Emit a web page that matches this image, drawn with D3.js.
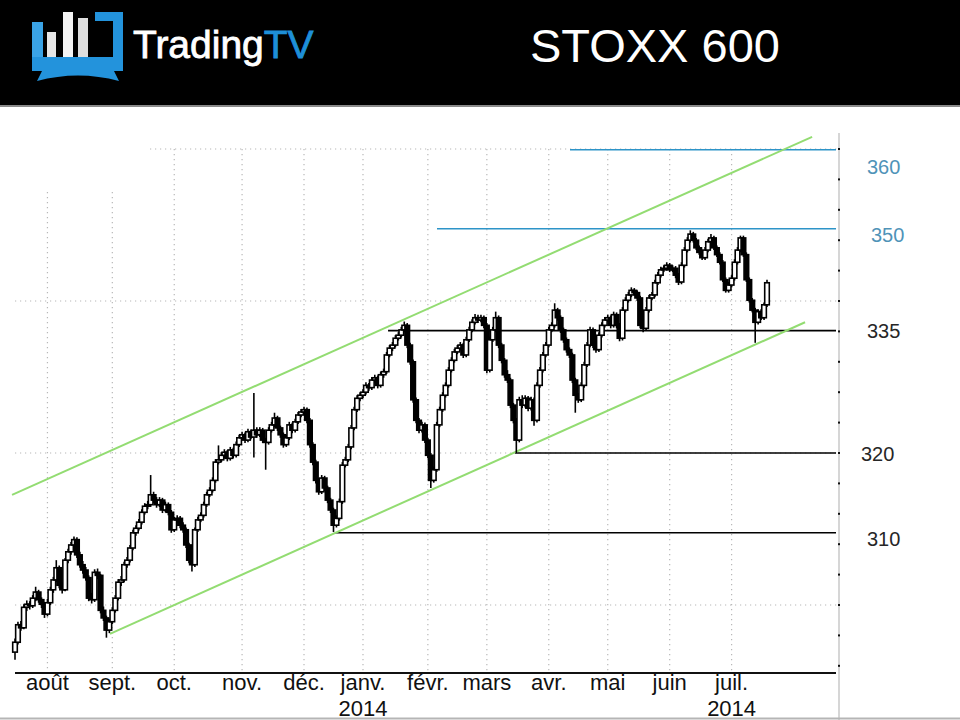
<!DOCTYPE html>
<html>
<head>
<meta charset="utf-8">
<script src="https://cdn.jsdelivr.net/npm/d3@7"></script>
<style>
  body { margin: 0; background: #fff; }
  svg { display: block; }
</style>
</head>
<body>
<div id="chart"></div>
<script>
// Daily candles, 17 Jul 2013 .. 17 Jul 2014: [open, high, low, close]
const candles = [
  [293.8,295.6,292.8,295.1],[295.1,297.8,294.8,297.4],[297.4,297.9,296.6,297.0],[297.0,300.1,296.8,299.7],
  [299.7,300.6,299.2,300.1],[300.1,300.5,299.4,299.9],[299.9,301.3,299.6,300.9],[300.9,302.4,300.5,301.7],
  [301.7,302.0,300.3,300.7],[300.7,301.0,299.6,300.1],[300.1,300.4,298.3,298.8],[298.8,300.8,298.5,300.3],
  [300.3,302.4,300.0,302.0],[302.0,303.7,301.6,303.3],[303.3,305.9,303.0,304.9],[304.9,305.2,302.2,302.6],
  [302.6,303.0,301.5,302.0],[302.0,306.2,301.8,305.9],[305.9,307.4,305.5,307.0],[307.0,308.3,306.6,307.9],
  [307.9,309.0,307.5,308.6],[308.6,308.9,306.2,306.6],[306.6,307.0,304.9,305.3],[305.3,305.8,304.1,304.6],
  [304.6,305.0,303.2,303.6],[303.6,303.9,300.5,300.9],[300.9,301.6,300.2,300.7],[300.7,304.7,300.4,304.3],
  [304.3,304.8,303.4,303.9],[303.9,304.1,298.9,299.3],[299.3,299.8,297.9,298.3],[298.3,298.6,295.7,296.7],
  [296.7,298.2,296.3,297.8],[297.8,299.7,297.5,299.3],[299.3,301.3,299.0,300.9],[300.9,303.4,300.6,303.0],
  [303.0,303.8,302.5,303.3],[303.3,305.7,303.0,305.3],[305.3,306.3,304.9,305.9],[305.9,307.9,305.6,307.5],
  [307.5,309.9,307.2,309.5],[309.5,310.5,309.1,310.1],[310.1,311.3,309.8,310.9],[310.9,312.6,310.6,312.2],
  [312.2,313.4,311.9,313.0],[313.0,313.7,312.6,313.2],[313.2,317.1,312.9,314.5],[314.5,314.9,313.4,313.8],
  [313.8,314.2,312.8,313.2],[313.2,314.2,312.9,313.8],[313.8,314.1,312.1,312.5],[312.5,313.6,312.2,313.2],
  [313.2,313.5,311.8,312.2],[312.2,312.5,309.5,309.9],[309.9,311.6,309.6,311.2],[311.2,311.8,310.8,311.4],
  [311.4,311.7,310.1,310.5],[310.5,310.9,309.5,309.9],[309.9,310.2,307.5,307.9],[307.9,308.2,305.5,305.9],
  [305.9,306.3,304.4,305.3],[305.3,310.2,305.0,309.9],[309.9,311.6,309.6,311.2],[311.2,312.2,310.9,311.8],
  [311.8,313.6,311.5,313.2],[313.2,314.9,312.9,314.5],[314.5,315.5,314.2,315.1],[315.1,316.8,314.8,316.4],
  [316.4,319.2,316.1,318.8],[318.8,321.0,318.5,319.1],[319.1,320.1,318.8,319.7],[319.7,320.5,319.3,320.1],
  [320.1,320.4,318.9,319.3],[319.3,320.8,319.0,320.4],[320.4,320.7,319.3,319.7],[319.7,321.5,319.4,321.1],
  [321.1,322.4,320.8,322.0],[322.0,322.8,321.7,322.4],[322.4,322.7,321.3,321.7],[321.7,323.2,321.4,322.8],
  [322.8,323.1,321.8,322.1],[322.1,327.9,319.4,323.0],[323.0,323.4,322.0,322.4],[322.4,323.4,322.1,323.0],
  [323.0,323.3,321.3,321.7],[321.7,322.0,317.8,321.4],[321.4,323.4,321.1,323.0],[323.0,324.1,322.7,323.7],
  [323.7,325.3,323.4,324.6],[324.6,324.9,322.9,323.3],[323.3,323.6,322.0,322.4],[322.4,322.7,320.7,321.1],
  [321.1,322.4,320.8,322.0],[322.0,324.1,321.7,323.7],[323.7,324.0,322.6,323.0],[323.0,324.5,322.7,324.1],
  [324.1,325.4,323.8,325.0],[325.0,325.8,324.7,325.4],[325.4,326.1,325.0,325.7],[325.7,326.0,323.9,324.3],
  [324.3,324.6,320.7,321.1],[321.1,321.4,318.4,318.8],[318.8,319.1,316.0,316.4],[316.4,316.7,314.5,314.9],
  [314.9,317.1,314.6,316.7],[316.7,317.0,315.0,315.4],[315.4,315.7,313.4,313.8],[313.8,314.1,312.1,312.5],
  [312.5,312.8,309.6,310.5],[310.5,311.8,310.2,311.4],[311.4,314.0,311.1,313.6],[313.6,318.8,313.3,318.4],
  [318.4,319.5,318.1,319.1],[319.1,321.2,318.8,320.8],[320.8,323.7,320.5,323.3],[323.3,326.1,323.0,325.7],
  [325.7,327.6,325.4,327.2],[327.2,328.0,326.8,327.6],[327.6,328.4,327.2,328.0],[328.0,329.3,327.7,328.9],
  [328.9,329.2,328.2,328.6],[328.6,330.0,328.3,329.6],[329.6,330.3,329.2,329.9],[329.9,330.2,328.5,328.9],
  [328.9,330.7,328.6,330.3],[330.3,331.1,329.9,330.7],[330.7,333.3,330.4,332.9],[332.9,334.2,332.6,333.8],
  [333.8,334.6,333.4,334.2],[334.2,335.5,333.9,335.1],[335.1,335.9,334.8,335.5],[335.5,336.6,335.2,336.2],
  [336.2,337.3,335.9,336.8],[336.8,337.1,333.8,334.2],[334.2,334.5,331.6,332.0],[332.0,332.3,326.6,327.0],
  [327.0,327.3,323.9,324.3],[324.3,324.6,322.6,323.0],[323.0,324.1,322.7,323.7],[323.7,324.0,321.3,321.7],
  [321.7,322.0,319.3,319.7],[319.7,320.0,315.4,316.4],[316.4,318.2,316.1,317.8],[317.8,324.1,317.5,323.7],
  [323.7,326.1,323.4,325.7],[325.7,328.0,325.4,327.6],[327.6,329.3,327.3,328.9],[328.9,331.3,328.6,330.9],
  [330.9,332.6,330.6,332.2],[332.2,333.7,331.9,333.3],[333.3,334.2,333.0,333.8],[333.8,334.6,333.5,334.2],
  [334.2,334.5,332.5,332.9],[332.9,335.3,332.6,334.9],[334.9,336.6,334.6,336.2],[336.2,337.6,335.9,337.2],
  [337.2,338.3,336.9,337.8],[337.8,338.2,337.1,337.5],[337.5,338.2,337.2,337.8],[337.8,338.1,336.4,336.8],
  [336.8,337.1,330.5,330.9],[330.9,335.3,330.6,334.9],[334.9,336.6,334.6,336.2],[336.2,338.6,335.9,337.8],
  [337.8,338.1,333.8,334.2],[334.2,334.5,331.8,332.2],[332.2,332.5,329.9,330.3],[330.3,330.9,329.2,329.6],
  [329.6,329.9,325.9,326.3],[326.3,326.6,323.9,324.3],[324.3,324.6,320.0,321.7],[321.7,327.4,321.4,327.0],
  [327.0,327.6,325.9,326.3],[326.3,327.6,326.0,327.2],[327.2,327.5,325.5,325.9],[325.9,327.4,325.6,327.0],
  [327.0,327.3,323.6,324.3],[324.3,329.3,324.0,328.9],[328.9,331.3,328.6,330.9],[330.9,333.3,330.6,332.9],
  [332.9,334.6,332.6,334.2],[334.2,336.6,333.9,336.2],[336.2,337.2,335.9,336.8],[336.8,339.7,336.5,338.8],
  [338.8,339.1,337.4,337.8],[337.8,338.1,335.8,336.2],[336.2,336.5,334.5,334.9],[334.9,335.2,333.2,333.6],
  [333.6,333.9,332.5,332.9],[332.9,333.2,329.2,329.6],[329.6,329.9,325.3,327.6],[327.6,327.9,326.6,327.0],
  [327.0,329.3,326.7,328.9],[328.9,332.0,328.6,331.6],[331.6,334.6,331.3,334.2],[334.2,336.6,333.9,336.2],
  [336.2,336.5,333.8,334.2],[334.2,334.5,333.2,333.6],[333.6,335.9,333.3,335.5],[335.5,337.2,335.2,336.8],
  [336.8,337.9,336.5,337.5],[337.5,338.2,337.2,337.8],[337.8,338.1,336.4,336.8],[336.8,338.6,336.5,338.2],
  [338.2,338.5,336.4,336.8],[336.8,337.1,334.7,335.1],[335.1,339.2,334.8,338.8],[338.8,340.5,338.5,340.1],
  [340.1,341.2,339.8,340.8],[340.8,341.8,340.5,341.4],[341.4,341.7,340.7,341.1],[341.1,341.4,340.0,340.4],
  [340.4,340.7,336.4,336.8],[336.8,337.1,335.9,336.4],[336.4,339.2,336.1,338.8],[338.8,340.8,338.5,340.4],
  [340.4,341.2,340.1,340.8],[340.8,342.8,340.5,342.4],[342.4,343.8,342.1,343.4],[343.4,344.5,343.1,344.1],
  [344.1,344.7,343.8,344.3],[344.3,345.1,344.0,344.7],[344.7,345.0,343.8,344.1],[344.1,344.7,343.8,344.3],
  [344.3,344.6,343.0,343.4],[343.4,343.7,342.1,342.5],[342.5,345.1,342.2,344.7],[344.7,347.1,344.4,346.7],
  [346.7,348.4,346.4,348.0],[348.0,349.3,347.7,348.8],[348.8,349.1,347.7,348.0],[348.0,348.3,346.7,347.0],
  [347.0,347.3,346.1,346.4],[346.4,346.7,345.4,345.7],[345.7,347.1,345.4,346.7],[346.7,348.2,346.4,347.8],
  [347.8,348.8,347.5,348.3],[348.3,348.6,346.7,347.0],[347.0,347.3,345.8,346.1],[346.1,346.4,344.8,345.1],
  [345.1,345.4,342.5,342.8],[342.8,343.1,341.1,341.4],[341.4,342.5,341.1,342.1],[342.1,343.4,341.8,343.0],
  [343.0,345.5,342.7,345.1],[345.1,347.1,344.8,346.7],[346.7,348.6,346.4,348.3],[348.3,348.6,345.8,346.1],
  [346.1,346.4,342.5,342.8],[342.8,343.1,339.8,340.1],[340.1,340.4,338.5,338.8],[338.8,339.1,334.5,337.2],
  [337.2,338.9,336.9,338.6],[338.6,338.9,337.5,337.8],[337.8,339.8,337.5,339.5],[339.5,342.8,339.2,342.4]
];

// Month axis (trading-day index of the first session of each month)
const monthLabels = ['août', 'sept.', 'oct.', 'nov.', 'déc.', 'janv.', 'févr.', 'mars', 'avr.', 'mai', 'juin', 'juil.'];
const monthStartIdx = [11, 33, 54, 77, 98, 118, 140, 160, 181, 201, 222, 243];
const yearLabels = ['2014', '2014'];
const yearIdx = [118, 243];

// Horizontal support / resistance levels drawn on the chart
const levelValues = [359.9, 349.5, 336.1, 320.0, 309.5];
const levelLabels = ['360', '350', '335', '320', '310'];
const levelStartIdx = [188.2, 143.1, 126.5, 169.5, 108.5];
const levelEndIdx = 278.4;
const levelBlue = [true, true, false, false, false];

// Trend channel (index, value) end points
const upperChannel = [[-1.0, 314.5], [270.3, 361.6]];
const lowerChannel = [[32.2, 296.2], [267.9, 337.2]];

const gridValues = [300, 320, 340, 360];

function drawChart() {
    const W = 960, H = 720;
    const svg = d3.select('#chart').append('svg')
        .attr('width', W)
        .attr('height', H)
        .style('font-family', '"Liberation Sans", Arial, sans-serif');

    // Scales - index based (keine Wochenend-Lücken)
    const x = d3.scaleLinear().domain([0, candles.length - 1]).range([15, 767]);
    const y = d3.scaleLinear().domain([320, 340]).range([453, 301]);

    const plotLeft = 15, plotRight = 839, plotBottom = 673;
    const notchX = 150, notchY = 192;   // leerer Bereich oben links

    // ---- Header band ----
    svg.append('rect').attr('x', 0).attr('y', 0).attr('width', W).attr('height', 105).attr('fill', '#000');
    svg.append('line').attr('x1', 0).attr('x2', W).attr('y1', 106).attr('y2', 106)
        .attr('stroke', '#8a8a8a').attr('stroke-width', 2);

    // Logo icon
    const logo = svg.append('g');
    const blue = '#2393dc';
    logo.append('rect').attr('x', 32).attr('y', 22).attr('width', 11).attr('height', 36).attr('fill', '#3aa3e6');
    logo.append('path').attr('d', 'M95,12 H123 V60 H113 V21 H95 Z').attr('fill', blue);
    logo.append('path').attr('d', 'M32,57 H123 V71 H114 L119,81 Q78,70 37,81 L42,71 H32 Z').attr('fill', blue);
    logo.append('rect').attr('x', 47).attr('y', 32).attr('width', 9).attr('height', 25).attr('fill', '#e6e6e6');
    logo.append('rect').attr('x', 63).attr('y', 12).attr('width', 10).attr('height', 45).attr('fill', '#f4f4f4');
    logo.append('rect').attr('x', 78).attr('y', 18).attr('width', 10).attr('height', 39).attr('fill', '#dedede');

    const brand = svg.append('text')
        .attr('x', 133).attr('y', 58)
        .style('font-size', '39px')
        .attr('stroke-width', 0.8);
    brand.append('tspan').attr('fill', '#fff').attr('stroke', '#fff').text('Trading');
    brand.append('tspan').attr('fill', '#1e8fd8').attr('stroke', '#1e8fd8').text('TV');

    svg.append('text')
        .attr('x', 530).attr('y', 62)
        .attr('fill', '#fff')
        .style('font-size', '47px')
        .text('STOXX 600');

    // ---- Grid ----
    const grid = svg.append('g')
        .attr('stroke', '#b8b8b8')
        .attr('stroke-width', 1.2)
        .attr('stroke-dasharray', '1.2,3.8');

    grid.selectAll('line.vgrid')
        .data(monthStartIdx)
        .join('line')
        .attr('x1', d => x(d)).attr('x2', d => x(d))
        .attr('y1', d => x(d) < notchX ? notchY : y(360))
        .attr('y2', plotBottom);

    grid.selectAll('line.hgrid')
        .data(gridValues)
        .join('line')
        .attr('x1', d => y(d) < notchY ? notchX : plotLeft)
        .attr('x2', plotRight)
        .attr('y1', d => y(d)).attr('y2', d => y(d));

    // Right axis with tick dots
    svg.append('line')
        .attr('x1', plotRight).attr('x2', plotRight)
        .attr('y1', 133).attr('y2', 720)
        .attr('stroke', '#c9c9c9').attr('stroke-width', 1.5);

    svg.append('g').selectAll('rect')
        .data(d3.range(292, 361, 4))
        .join('rect')
        .attr('x', plotRight - 1).attr('y', d => y(d) - 1)
        .attr('width', 2).attr('height', 2)
        .attr('fill', '#111');

    // Bottom axis
    svg.append('line')
        .attr('x1', plotLeft).attr('x2', 836)
        .attr('y1', plotBottom).attr('y2', plotBottom)
        .attr('stroke', '#111').attr('stroke-width', 2);
    svg.append('line')
        .attr('x1', 0).attr('x2', W)
        .attr('y1', 718.5).attr('y2', 718.5)
        .attr('stroke', '#b5b5b5').attr('stroke-width', 2);

    svg.append('g').selectAll('text')
        .data(monthLabels)
        .join('text')
        .attr('x', (d, i) => x(monthStartIdx[i]))
        .attr('y', 690)
        .attr('text-anchor', 'middle')
        .attr('fill', '#111')
        .style('font-size', '22px')
        .text(d => d);

    svg.append('g').selectAll('text')
        .data(yearLabels)
        .join('text')
        .attr('x', (d, i) => x(yearIdx[i]))
        .attr('y', 716)
        .attr('text-anchor', 'middle')
        .attr('fill', '#111')
        .style('font-size', '22px')
        .text(d => d);

    // ---- Levels ----
    svg.append('g').selectAll('line')
        .data(levelValues)
        .join('line')
        .attr('x1', (d, i) => x(levelStartIdx[i]))
        .attr('x2', x(levelEndIdx))
        .attr('y1', d => y(d)).attr('y2', d => y(d))
        .attr('stroke', (d, i) => levelBlue[i] ? '#2d94c8' : '#000')
        .attr('stroke-width', 1.6);

    // Label-Versatz gegenüber der Linie (wie im Original)
    const labelDx = [0, 4, 0, -6, 0];
    const labelDy = [17, 6, 0, 1, 6];
    svg.append('g').selectAll('text')
        .data(levelLabels)
        .join('text')
        .attr('x', (d, i) => 867 + labelDx[i])
        .attr('y', (d, i) => y(levelValues[i]) + labelDy[i])
        .attr('dy', '0.35em')
        .attr('fill', (d, i) => levelBlue[i] ? '#4f93b8' : '#262626')
        .style('font-size', '20px')
        .text(d => d);

    // ---- Trend channel ----
    const chLine = d3.line().x(d => x(d[0])).y(d => y(d[1]));
    svg.append('g').selectAll('path')
        .data([upperChannel, lowerChannel])
        .join('path')
        .attr('d', chLine)
        .attr('fill', 'none')
        .attr('stroke', '#93dc72')
        .attr('stroke-width', 2);

    // ---- Candles ----
    const cg = svg.append('g');
    cg.selectAll('line')
        .data(candles)
        .join('line')
        .attr('x1', (d, i) => x(i)).attr('x2', (d, i) => x(i))
        .attr('y1', d => y(d[1])).attr('y2', d => y(d[2]))
        .attr('stroke', '#000')
        .attr('stroke-width', 1.6);

    cg.selectAll('rect')
        .data(candles)
        .join('rect')
        .attr('x', (d, i) => x(i) - 2.3)
        .attr('width', 4.6)
        .attr('y', d => y(Math.max(d[0], d[3])))
        .attr('height', d => Math.max(1, Math.abs(y(d[0]) - y(d[3]))))
        .attr('fill', d => d[3] >= d[0] ? '#fff' : '#000')
        .attr('stroke', '#000')
        .attr('stroke-width', 1.6);
}

drawChart();
</script>
</body>
</html>
